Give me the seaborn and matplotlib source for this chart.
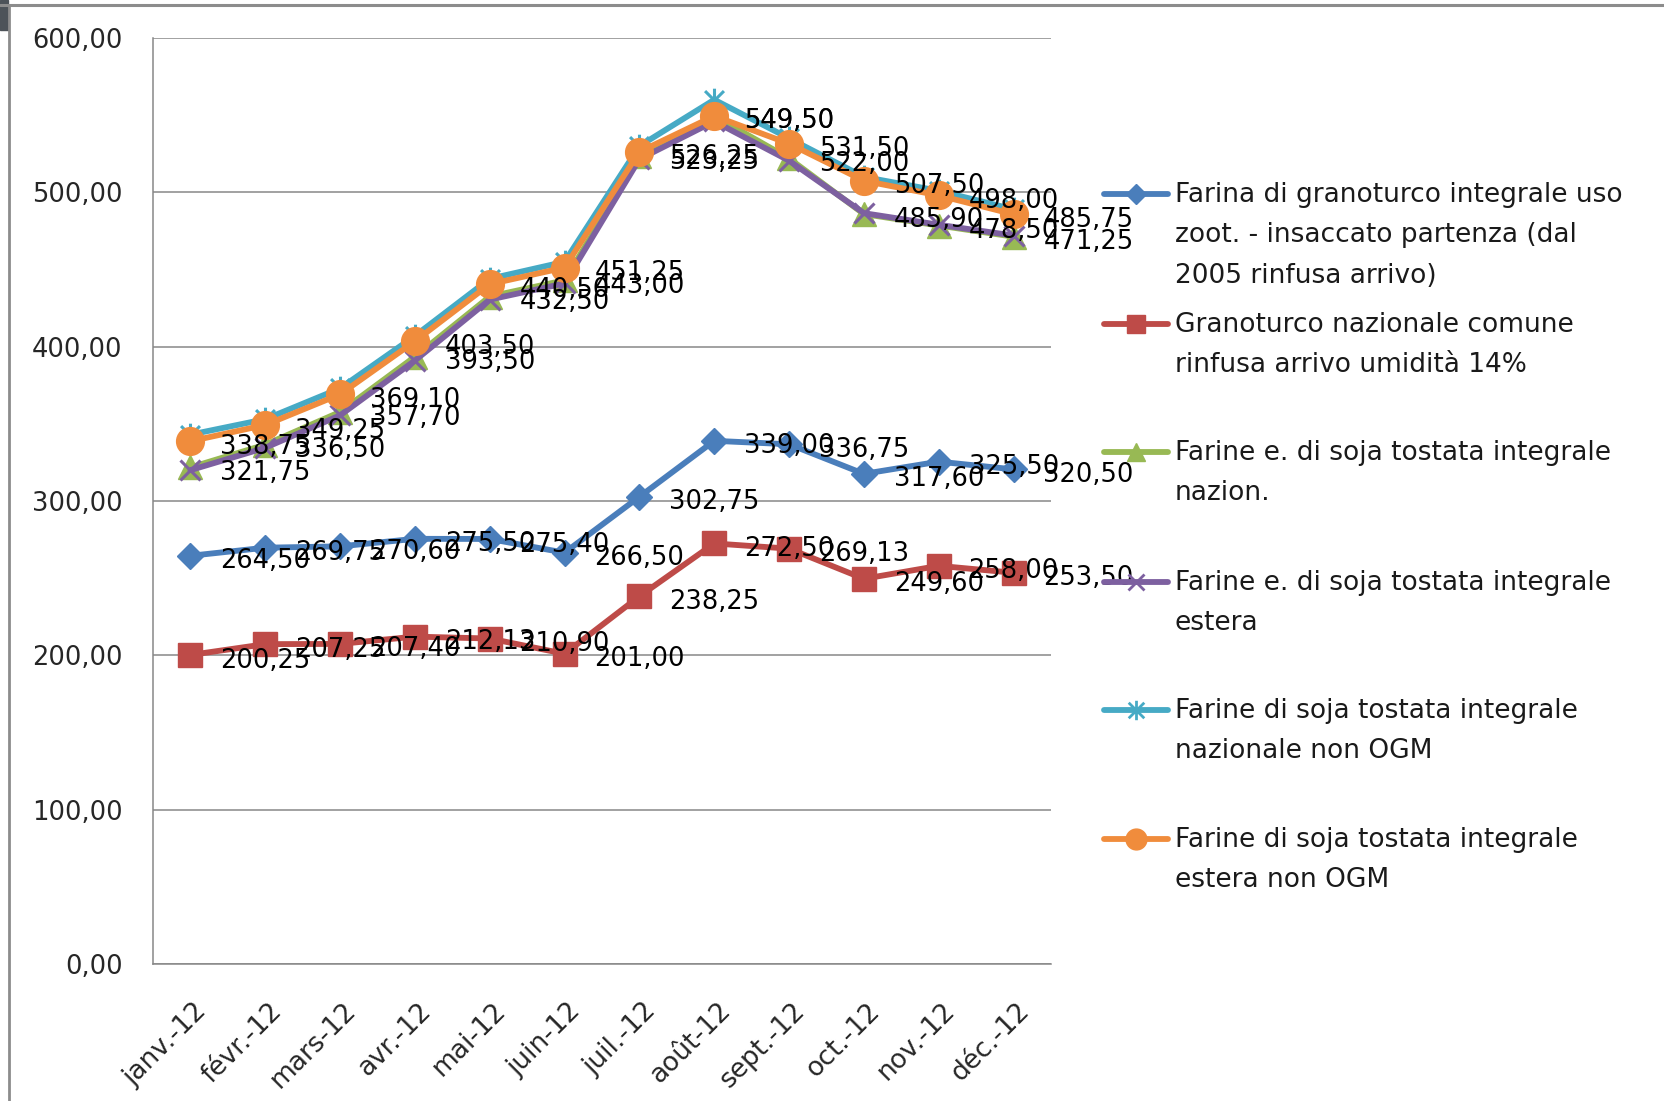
import numpy as np
import pandas as pd
import matplotlib
matplotlib.use("Agg")
import matplotlib.pyplot as plt
import seaborn as sns
from matplotlib.lines import Line2D
from matplotlib.path import Path
from matplotlib.patches import Rectangle
from matplotlib.transforms import ScaledTranslation

# data (prices, 2012)
months = ['janv.-12', 'févr.-12', 'mars-12', 'avr.-12', 'mai-12', 'juin-12',
          'juil.-12', 'août-12', 'sept.-12', 'oct.-12', 'nov.-12', 'déc.-12']

farina_granoturco = [264.50, 269.75, 270.60, 275.50, 275.40, 266.50,
                     302.75, 339.00, 336.75, 317.60, 325.50, 320.50]
granoturco_naz = [200.25, 207.25, 207.40, 212.13, 210.90, 201.00,
                  238.25, 272.50, 269.13, 249.60, 258.00, 253.50]
soja_naz = [321.75, 336.50, 357.70, 393.50, 432.50, 443.00,
            523.25, 549.50, 522.00, 485.90, 478.50, 471.25]
soja_estera = [320.00, 334.50, 355.50, 391.00, 430.50, 441.00,
               521.50, 546.00, 520.50, 486.50, 479.00, 472.00]
soja_naz_nonogm = [343.00, 353.00, 373.00, 407.00, 444.00, 455.00,
                   530.00, 560.00, 535.00, 510.00, 501.00, 489.00]
soja_estera_nonogm = [338.75, 349.25, 369.10, 403.50, 440.50, 451.25,
                      526.25, 549.50, 531.50, 507.50, 498.00, 485.75]

names = ['Farina di granoturco integrale uso\nzoot. - insaccato partenza (dal\n2005 rinfusa arrivo)',
         'Granoturco nazionale comune\nrinfusa arrivo umidità 14%',
         'Farine e. di soja tostata integrale\nnazion.',
         'Farine e. di soja tostata integrale\nestera',
         'Farine di soja tostata integrale\nnazionale non OGM',
         'Farine di soja tostata integrale\nestera non OGM']

# asterisk-like marker (x with a vertical bar), like the excel "star"
star = Path([(-1, -1), (1, 1), (-1, 1), (1, -1), (0, -1.25), (0, 1.25)],
            [Path.MOVETO, Path.LINETO, Path.MOVETO, Path.LINETO, Path.MOVETO, Path.LINETO])

series = [
    # values, color, marker, size, legend size, filled, show labels
    (farina_granoturco, '#4A7EBB', 'D', 13, 10, True, True),
    (granoturco_naz, '#BE4B48', 's', 17, 13, True, True),
    (soja_naz, '#98B954', '^', 17, 13, True, True),
    (soja_estera, '#7D60A0', 'x', 15, 12, False, False),
    (soja_naz_nonogm, '#46AAC5', star, 17, 14, False, False),
    (soja_estera_nonogm, '#F08C3C', 'o', 20, 15, True, True),
]

sns.set_style("white")
plt.rcParams['font.family'] = ['DejaVu Sans']

W, H = 1664, 1101
fig = plt.figure(figsize=(W / 100, H / 100), dpi=100)
ax = fig.add_axes([153 / W, 1 - 964 / H, (1051 - 153) / W, (964 - 38) / H])

x = np.arange(len(months))
for vals, col, mk, ms, lms, filled, show in series:
    df = pd.DataFrame({'x': x, 'y': vals})
    sns.lineplot(data=df, x='x', y='y', ax=ax, color=col, marker=mk,
                 markersize=ms, linewidth=4.2,
                 markeredgecolor=col, markerfacecolor=col if filled else 'none',
                 markeredgewidth=1 if filled else 2.2, errorbar=None)
    if show:
        for xi, v in zip(x, vals):
            ax.annotate(f"{v:.2f}".replace('.', ','), (xi, v), xytext=(21.5, -4),
                        textcoords='offset points', ha='left', va='center',
                        fontsize=18.5, color='black', zorder=10)

grid_col = '#878787'
ax.set_xlim(-0.5, 11.5)
ax.set_ylim(0, 600)
ax.set_yticks(np.arange(0, 601, 100))
ax.set_yticklabels([f"{v:.2f}".replace('.', ',') for v in np.arange(0, 601, 100)])
ax.yaxis.grid(True, color=grid_col, linewidth=1.1)
ax.set_axisbelow(True)
ax.set_xticks(x)
ax.set_xticklabels(months)
ax.set_xticks(np.arange(-0.5, 12, 1), minor=True)
ax.tick_params(axis='x', which='major', length=0, pad=31, labelsize=19)
ax.tick_params(axis='x', which='minor', length=8, width=1.1, color=grid_col, direction='out')
ax.tick_params(axis='y', length=7, width=1.1, color=grid_col, direction='out', pad=15, labelsize=18.5)
for lab in ax.get_xticklabels():
    lab.set_rotation(45)
    lab.set_ha('right')
    lab.set_va('center')
    lab.set_rotation_mode('anchor')
    lab.set_transform(lab.get_transform() + ScaledTranslation(9 / 72, 0, fig.dpi_scale_trans))
ax.set_xlabel('')
ax.set_ylabel('')
for s in ['top', 'right']:
    ax.spines[s].set_visible(False)
for s in ['left', 'bottom']:
    ax.spines[s].set_color(grid_col)
    ax.spines[s].set_linewidth(1.1)

# legend drawn by hand so the marker sits on the first text line
entry_y = [194, 324, 452, 582, 710, 839]
for (vals, col, mk, ms, lms, filled, show), name, yy in zip(series, names, entry_y):
    yf = 1 - yy / H
    fig.add_artist(Line2D([1104 / W, 1168 / W], [yf, yf], color=col, linewidth=4.2,
                          transform=fig.transFigure))
    fig.add_artist(Line2D([1136 / W], [yf], color=col, marker=mk, markersize=lms,
                          markeredgecolor=col, markerfacecolor=col if filled else 'none',
                          markeredgewidth=1 if filled else 2, transform=fig.transFigure))
    fig.text(1175 / W, 1 - (yy - 12) / H, name, va='top', ha='left',
             fontsize=19, linespacing=1.72, color='#1a1a1a')

# screenshot frame
fig.add_artist(Line2D([0, 1], [1 - 5 / H, 1 - 5 / H], color='#8c8c8c', linewidth=2.2,
                      transform=fig.transFigure))
fig.add_artist(Line2D([9 / W, 9 / W], [0, 1 - 5 / H], color='#8c8c8c', linewidth=2.0,
                      transform=fig.transFigure))
fig.add_artist(Rectangle((0, 1 - 30 / H), 8 / W, 30 / H, color='#4d5359',
                         transform=fig.transFigure))

fig.savefig('out.png', dpi=100)
